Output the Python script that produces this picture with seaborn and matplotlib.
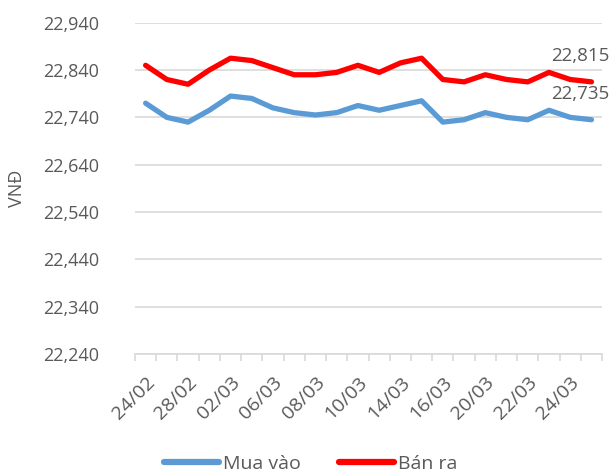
import numpy as np
import pandas as pd
import seaborn as sns
import matplotlib.pyplot as plt

dates = ['24/02', '26/02', '28/02', '01/03', '02/03', '05/03', '06/03', '07/03',
         '08/03', '09/03', '10/03', '12/03', '14/03', '15/03', '16/03', '19/03',
         '20/03', '21/03', '22/03', '23/03', '24/03', '25/03']
mua_vao = [22770, 22740, 22730, 22755, 22785, 22780, 22760, 22750, 22745, 22750, 22765,
           22755, 22765, 22775, 22730, 22735, 22750, 22740, 22735, 22755, 22740, 22735]
ban_ra = [22850, 22820, 22810, 22840, 22865, 22860, 22845, 22830, 22830, 22835, 22850,
          22835, 22855, 22865, 22820, 22815, 22830, 22820, 22815, 22835, 22820, 22815]
series_names = ['Mua vào', 'Bán ra']
colors = ['#5B9BD5', '#FF0000']
yticks = np.arange(22240, 22941, 100)

df = pd.DataFrame({'pos': list(range(len(dates))) * 2,
                   'value': mua_vao + ban_ra,
                   'series': [series_names[0]] * len(dates) + [series_names[1]] * len(dates)})

sns.set_style('white')
plt.rcParams['font.family'] = ['Open Sans', 'DejaVu Sans']
text_color = '#595959'

fig = plt.figure(figsize=(6.15, 4.75), dpi=100)
ax = fig.add_axes([0.2195, 0.2547, 0.7595, 0.6975])

sns.lineplot(data=df, x='pos', y='value', hue='series', palette=colors,
             linewidth=3.8, ax=ax, legend=False)

ax.set_ylim(22240, 22940)
ax.set_xlim(-0.5, len(dates) - 0.5)
ax.set_yticks(yticks)
ax.set_yticklabels([f'{v:,}' for v in yticks], fontsize=13, color=text_color)
ax.yaxis.grid(True, color='#D9D9D9', linewidth=1.2)
ax.set_axisbelow(True)
ax.tick_params(axis='y', length=0, pad=26)

# category boundary ticks like excel, labels every other day
ax.set_xticks(np.arange(-0.5, len(dates), 1.0), minor=True)
ax.set_xticks(np.arange(0, len(dates), 2))
ax.set_xticklabels(dates[::2], rotation=45, ha='right', rotation_mode='anchor',
                   fontsize=14, color=text_color)
ax.tick_params(axis='x', which='major', length=0, pad=14)
ax.tick_params(axis='x', which='minor', length=5, width=1.2, color='#D9D9D9', direction='out')
ax.xaxis.set_ticks_position('bottom')

for s in ['top', 'right', 'left']:
    ax.spines[s].set_visible(False)
ax.spines['bottom'].set_color('#D9D9D9')
ax.spines['bottom'].set_linewidth(1.2)

ax.set_xlabel('')
ax.set_ylabel('VNĐ', fontsize=13, color=text_color)
ax.yaxis.set_label_coords(-0.233, 0.5)

last = len(dates) - 1
ax.annotate(f'{ban_ra[-1]:,}', (last, ban_ra[-1]), xytext=(-8, 12), textcoords='offset points',
            ha='center', va='bottom', fontsize=13.5, color=text_color, annotation_clip=False)
ax.annotate(f'{mua_vao[-1]:,}', (last, mua_vao[-1]), xytext=(-8, 12), textcoords='offset points',
            ha='center', va='bottom', fontsize=13.5, color=text_color, annotation_clip=False)

handles = [plt.Line2D([0], [0], color=c, linewidth=4.5, solid_capstyle='round') for c in colors]
fig.legend(handles, series_names, loc='center', bbox_to_anchor=(0.505, 0.024), ncol=2,
           frameon=False, fontsize=14, labelcolor=text_color, handlelength=2.8,
           handletextpad=0.2, columnspacing=2.0)

fig.savefig('out.png', dpi=100)
